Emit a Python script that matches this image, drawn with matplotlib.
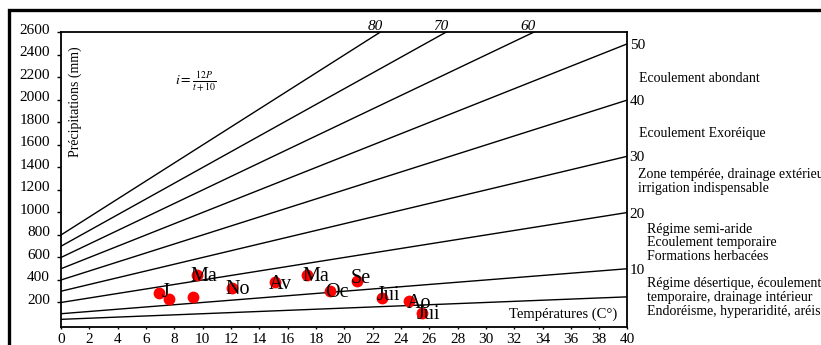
import matplotlib
matplotlib.use("Agg")
import matplotlib.pyplot as plt
import matplotlib.transforms as mtransforms
from matplotlib.patches import Rectangle

# aridity index lines (De Martonne abacus), read at T=0 and T=40
index_values = [80, 70, 60, 50, 40, 30, 20, 10, 5]
p_at_0 = [800, 700, 600, 500, 400, 300, 200, 100, 50]
p_at_40 = [4000, 3500, 3000, 2500, 2000, 1500, 1000, 500, 250]
right_labels = ["", "", "", "50", "40", "30", "20", "10", ""]

# monthly points
month_labels = ["J", "", "", "Ma", "No", "Av", "Ma", "Oc", "Se", "Jui", "Ao", "Jui"]
temperature = [6.9, 7.6, 9.3, 9.6, 12.1, 15.1, 17.4, 19.0, 20.9, 22.7, 24.6, 25.5]
precipitation = [285, 235, 250, 447, 332, 381, 447, 302, 390, 244, 211, 108]

# label offsets in pixels (dx, dy)
label_offsets = [(3, 2), (0, 0), (0, 0), (-7, 0), (-7, 0), (-6, 0),
                 (-5, 0), (-5, 0), (-6, 5), (-6, 4), (-3, 0), (-6, 0)]

zone_texts = [
    "Ecoulement abondant",
    "Ecoulement Exoréique",
    "Zone tempérée, drainage extérieur",
    "irrigation indispensable",
    "Régime semi-aride",
    "Ecoulement temporaire",
    "Formations herbacées",
    "Régime désertique, écoulement",
    "temporaire, drainage intérieur",
    "Endoréisme, hyperaridité, aréisme",
]
zone_y = [2194, 1703, 1339, 1216, 846, 731, 608, 370, 247, 123]
zone_x = [40.78, 40.78, 40.72, 40.72, 41.4, 41.4, 41.4, 41.4, 41.4, 41.4]

x_ticks = list(range(0, 41, 2))
y_ticks = list(range(200, 2601, 200))

Y_MIN, Y_MAX = -18, 2577

plt.rcParams["font.family"] = ["Liberation Serif", "DejaVu Serif"]
plt.rcParams["mathtext.fontset"] = "stix"


def main():

    fig = plt.figure(figsize=(8.21, 3.45), dpi=100)
    ax = fig.add_axes([0.0743, 0.0522, 0.690, 0.8536])

    # outer frame of the scanned figure
    fig.patches.append(
        Rectangle(
            (0.0104, -0.05), 1.1, 0.021 + 1.0,
            transform=fig.transFigure,
            fill=False,
            lw=2.4,
            edgecolor="black",
            clip_on=False,
        )
    )

    for i, p0, p40, rl in zip(index_values, p_at_0, p_at_40, right_labels):
        ax.plot([0, 40], [p0, p40], color="black", lw=1.0, zorder=2)
        if p40 > Y_MAX:
            x_top = (Y_MAX - p0) / (p40 - p0) * 40
            ax.text(x_top, Y_MAX + 20, str(i), style="italic",
                    fontsize=11, ha="center", va="bottom")
        elif rl:
            ax.text(40.15, p40 - 15, rl, fontsize=11,
                    ha="left", va="center", clip_on=False)

    ax.plot(temperature, precipitation, "o", color="#ff0000",
            markersize=8.5, markeredgewidth=0, zorder=3)

    for lab, t, p, (dx, dy) in zip(month_labels, temperature,
                                   precipitation, label_offsets):
        if lab:
            ax.annotate(lab, (t, p), xytext=(dx, dy - 6.5),
                        textcoords="offset pixels",
                        fontsize=14.5, ha="left", va="baseline", zorder=4)

    for txt, x, y in zip(zone_texts, zone_x, zone_y):
        ax.text(x, y, txt, fontsize=10, ha="left", va="center",
                clip_on=False)

    ax.text(1.0, 1985, "Précipitations (mm)", rotation=90,
            fontsize=10, ha="center", va="center")
    ax.text(39.3, 97, "Températures (C°)", fontsize=10.5,
            ha="right", va="center")
    ax.text(9.5, 2160, r"$i=\frac{12P}{t+10}$", fontsize=10,
            ha="center", va="center")

    ax.set_xlim(0, 40)
    ax.set_ylim(Y_MIN, Y_MAX)
    ax.set_xticks(x_ticks)
    ax.set_yticks(y_ticks)
    ax.tick_params(axis="y", direction="out", length=3, width=1,
                   pad=5, labelsize=11)
    ax.tick_params(axis="x", direction="out", length=1.5, width=1,
                   pad=3, labelsize=11)

    shift = mtransforms.ScaledTranslation(0, 0.035, fig.dpi_scale_trans)
    for label in ax.get_yticklabels():
        label.set_transform(label.get_transform() + shift)

    for spine in ax.spines.values():
        spine.set_linewidth(1.3)

    fig.savefig("out.png", dpi=100)
    plt.close(fig)


if __name__ == "__main__":
    main()
